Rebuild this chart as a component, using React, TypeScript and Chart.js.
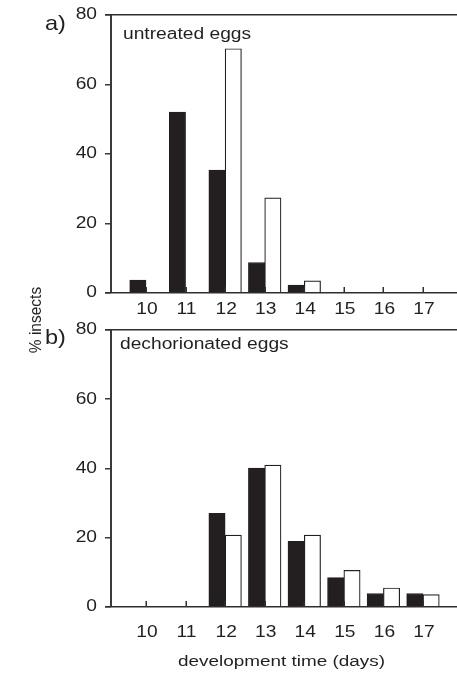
import React, { useEffect, useRef } from "react";
import { Chart, registerables } from "chart.js";
Chart.register(...registerables);

// ---- data ----
const days = [10, 11, 12, 13, 14, 15, 16, 17];
const untreatedBlack = [3.4, 51.8, 35.1, 8.5, 2.0, 0, 0, 0];
const untreatedWhite = [0, 0, 70.0, 27.1, 3.2, 0, 0, 0];
const dechorBlack = [0, 0, 26.8, 39.8, 18.7, 8.2, 3.6, 3.6];
const dechorWhite = [0, 0, 20.5, 40.7, 20.5, 10.3, 5.2, 3.3];
const yTicks = [0, 20, 40, 60, 80];
const panelLetters = ["a)", "b)"];
const panelTitles = ["untreated eggs", "dechorionated eggs"];
const yTitle = "% insects";
const xTitle = "development time (days)";

const W = 457;
const H = 675;
const FONT = '"Liberation Sans", Arial, Helvetica, sans-serif';
const SX = 1.2;
const INK = "#231f20";

function txt(ctx: CanvasRenderingContext2D, s: string, x: number, y: number, size: number, align: CanvasTextAlign, baseline: CanvasTextBaseline, sx = SX, rot = 0) {
  ctx.save();
  ctx.translate(x, y);
  ctx.scale(sx, 1);
  if (rot) ctx.rotate(rot);
  ctx.font = `${size}px ${FONT}`;
  ctx.fillStyle = INK;
  ctx.textAlign = align;
  ctx.textBaseline = baseline;
  ctx.fillText(s, 0, 0);
  ctx.restore();
}

type PanelCfg = {
  top: number;
  bottom: number;
  letter: string;
  letterY: number;
  title: string;
  titleX: number;
  titleY: number;
  xLabelY: number;
  showAxisTitles: boolean;
};

function makePlugin(cfg: PanelCfg) {
  return {
    id: "customAxes",
    afterDraw(chart: any) {
      const ctx: CanvasRenderingContext2D = chart.ctx;
      const xs = chart.scales.x;
      const ys = chart.scales.y;
      const a = chart.chartArea;
      const L = Math.round(a.left);
      const T = Math.round(a.top);
      const B = Math.round(a.bottom);
      const R = Math.round(a.right);
      ctx.save();
      // left axis (stroked path) and outward y ticks
      ctx.strokeStyle = "#3a3a3a";
      ctx.lineWidth = 2;
      ctx.lineCap = "butt";
      ctx.beginPath();
      ctx.moveTo(L + 1, T);
      ctx.lineTo(L + 1, B + 1);
      ctx.stroke();
      ctx.lineWidth = 1.5;
      ctx.beginPath();
      for (const v of yTicks) {
        const py = Math.round(ys.getPixelForValue(v)) + 0.75;
        ctx.moveTo(L - 5, py);
        ctx.lineTo(L + 1, py);
      }
      ctx.stroke();
      // top frame line and baseline
      ctx.fillStyle = "#2e2e2e";
      ctx.fillRect(L - 5, T, R - L + 5, 1.5);
      ctx.fillRect(L - 5, B, R - L + 5, 1.5);
      // x ticks (inside, pointing up)
      for (const d of days) {
        const px = Math.round(xs.getPixelForValue(d));
        ctx.fillRect(px - 0.5, B - 5, 1.5, 5);
      }
      ctx.restore();

      for (const v of yTicks) {
        txt(ctx, String(v), L - 13, ys.getPixelForValue(v) + 1, 16, "right", "middle");
      }
      for (const d of days) {
        txt(ctx, String(d), xs.getPixelForValue(d) + 1, cfg.xLabelY, 16, "center", "middle");
      }
      txt(ctx, cfg.letter, 45, cfg.letterY, 21, "left", "alphabetic", 1.12);
      txt(ctx, cfg.title, cfg.titleX, cfg.titleY, 16, "left", "alphabetic", 1.2);
      if (cfg.showAxisTitles) {
        txt(ctx, xTitle, (a.left + a.right) / 2 - 2, 662, 15.5, "center", "middle", 1.22);
        txt(ctx, yTitle, 36, 320, 15.5, "center", "middle", 1.1, -Math.PI / 2);
      }
    },
  };
}

function Panel({ black, white, cfg }: { black: number[]; white: number[]; cfg: PanelCfg }) {
  const ref = useRef<HTMLCanvasElement | null>(null);
  useEffect(() => {
    if (!ref.current) return;
    const chart = new Chart(ref.current, {
      type: "bar",
      data: {
        datasets: [
          {
            data: days.map((d, i) => ({ x: d, y: black[i] })),
            backgroundColor: INK,
            borderColor: INK,
            borderWidth: 1,
            barThickness: 16.3,
          },
          {
            data: days.map((d, i) => ({ x: d, y: white[i] })),
            backgroundColor: "#ffffff",
            borderColor: INK,
            borderWidth: 1.2,
            barThickness: 16.3,
          },
        ],
      } as any,
      options: {
        animation: false,
        responsive: false,
        maintainAspectRatio: false,
        devicePixelRatio: 1,
        layout: { padding: { left: 110, right: 0, top: cfg.top, bottom: H - cfg.bottom } },
        plugins: { legend: { display: false }, tooltip: { enabled: false } },
        scales: {
          x: { type: "linear", min: 9.09, max: 17.86, offset: false, display: false },
          y: { type: "linear", min: 0, max: 80, display: false },
        },
      } as any,
      plugins: [makePlugin(cfg)],
    });
    return () => chart.destroy();
  }, []);
  return (
    <canvas
      ref={ref}
      width={W}
      height={H}
      style={{ position: "absolute", left: 0, top: 0, width: W, height: H }}
    />
  );
}

export default function App() {
  return (
    <div style={{ position: "absolute", left: 0, top: 0, width: W, height: H, background: "#fff" }}>
      <Panel
        black={untreatedBlack}
        white={untreatedWhite}
        cfg={{
          top: 14,
          bottom: 292,
          letter: panelLetters[0],
          letterY: 30,
          title: panelTitles[0],
          titleX: 123,
          titleY: 39,
          xLabelY: 310,
          showAxisTitles: false,
        }}
      />
      <Panel
        black={dechorBlack}
        white={dechorWhite}
        cfg={{
          top: 329,
          bottom: 606,
          letter: panelLetters[1],
          letterY: 344,
          title: panelTitles[1],
          titleX: 120,
          titleY: 349,
          xLabelY: 633,
          showAxisTitles: true,
        }}
      />
    </div>
  );
}
